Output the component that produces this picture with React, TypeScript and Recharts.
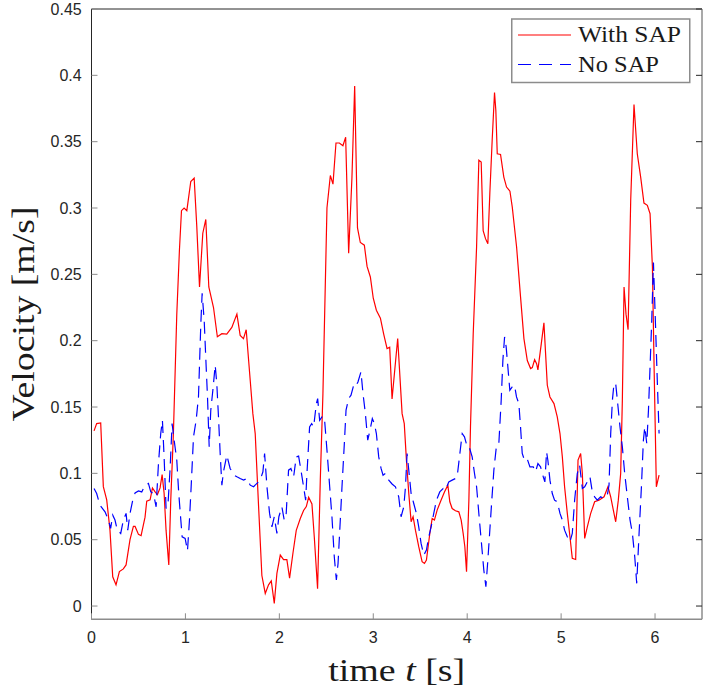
import React from "react";
import { Line, LineChart, XAxis, YAxis } from "recharts";

// sample times (s) and velocities (m/s)
const WITH_SAP_T = [
  0.027, 0.055, 0.098, 0.126, 0.162, 0.197, 0.226, 0.261, 0.297, 0.339, 0.368, 0.41, 0.446, 0.464, 0.5,
  0.528, 0.57, 0.588, 0.624, 0.649, 0.677, 0.702, 0.73, 0.752, 0.773, 0.794, 0.823, 0.844, 0.872, 0.908,
  0.936, 0.958, 0.986, 1.015, 1.057, 1.093, 1.121, 1.15, 1.185, 1.217, 1.249, 1.299, 1.34, 1.388, 1.44,
  1.494, 1.548, 1.583, 1.618, 1.647, 1.69, 1.718, 1.743, 1.779, 1.814, 1.85, 1.885, 1.914, 1.946, 1.974,
  2.01, 2.045, 2.08, 2.109, 2.145, 2.18, 2.223, 2.258, 2.287, 2.312, 2.347, 2.372, 2.407, 2.436, 2.464,
  2.507, 2.543, 2.571, 2.603, 2.639, 2.677, 2.706, 2.738, 2.773, 2.802, 2.832, 2.862, 2.905, 2.934, 2.969,
  3.0, 3.033, 3.076, 3.111, 3.147, 3.175, 3.2, 3.26, 3.307, 3.33, 3.353, 3.378, 3.403, 3.424, 3.449,
  3.484, 3.52, 3.545, 3.566, 3.602, 3.627, 3.651, 3.68, 3.715, 3.758, 3.794, 3.815, 3.84, 3.875, 3.911,
  3.936, 3.957, 3.975, 3.993, 4.018, 4.035, 4.064, 4.1, 4.124, 4.149, 4.17, 4.195, 4.22, 4.241, 4.266,
  4.291, 4.305, 4.32, 4.355, 4.39, 4.419, 4.455, 4.48, 4.526, 4.568, 4.604, 4.64, 4.675, 4.693, 4.718,
  4.739, 4.753, 4.789, 4.817, 4.853, 4.881, 4.924, 4.959, 4.988, 5.013, 5.037, 5.066, 5.094, 5.119, 5.155,
  5.18, 5.208, 5.226, 5.251, 5.279, 5.315, 5.357, 5.403, 5.457, 5.499, 5.528, 5.556, 5.581, 5.609, 5.634,
  5.652, 5.67, 5.691, 5.713, 5.741, 5.776, 5.811, 5.847, 5.882, 5.918, 5.947, 5.972, 5.99, 6.014, 6.043,
];
const WITH_SAP_V = [
  0.132, 0.1375, 0.138, 0.09, 0.08, 0.057, 0.022, 0.016, 0.026, 0.028, 0.031, 0.05, 0.06, 0.06, 0.054,
  0.053, 0.067, 0.079, 0.08, 0.089, 0.086, 0.084, 0.089, 0.099, 0.085, 0.057, 0.031, 0.08, 0.13, 0.22,
  0.268, 0.298, 0.3, 0.298, 0.32, 0.3225, 0.286, 0.2405, 0.281, 0.2914, 0.2405, 0.225, 0.203, 0.2053, 0.205,
  0.21, 0.22, 0.204, 0.2016, 0.2083, 0.17, 0.145, 0.13, 0.075, 0.023, 0.0095, 0.016, 0.019, 0.002, 0.0246,
  0.0384, 0.035, 0.035, 0.021, 0.04, 0.057, 0.066, 0.072, 0.075, 0.082, 0.077, 0.052, 0.013, 0.095, 0.16,
  0.3, 0.3245, 0.318, 0.349, 0.349, 0.347, 0.3534, 0.266, 0.323, 0.392, 0.285, 0.274, 0.272, 0.256, 0.248,
  0.232, 0.223, 0.217, 0.205, 0.194, 0.195, 0.156, 0.2016, 0.145, 0.1375, 0.11, 0.085, 0.0635, 0.0673, 0.0572,
  0.0447, 0.0334, 0.0321, 0.0346, 0.0547, 0.066, 0.0648, 0.0723, 0.0786, 0.086, 0.0911, 0.0786, 0.0735, 0.0718, 0.071,
  0.0648, 0.0547, 0.0447, 0.0259, 0.0798, 0.135, 0.205, 0.2706, 0.336, 0.3346, 0.283, 0.2769, 0.273, 0.311, 0.351,
  0.387, 0.3735, 0.3409, 0.3404, 0.3233, 0.3158, 0.3127, 0.3007, 0.2706, 0.233, 0.2016, 0.185, 0.179, 0.1797, 0.1857,
  0.1827, 0.178, 0.1978, 0.2134, 0.1664, 0.1576, 0.1526, 0.1426, 0.13, 0.1124, 0.0899, 0.0698, 0.0522, 0.0359, 0.0351,
  0.11, 0.115, 0.0999, 0.051, 0.0597, 0.0698, 0.0786, 0.0798, 0.0823, 0.0899, 0.0823, 0.0723, 0.0635, 0.0798, 0.0999,
  0.155, 0.2405, 0.22, 0.2083, 0.306, 0.378, 0.3409, 0.3233, 0.3037, 0.302, 0.2957, 0.2555, 0.18, 0.0899, 0.0986,
];

const NO_SAP_T = [
  0.027, 0.055, 0.09, 0.144, 0.18, 0.204, 0.226, 0.25, 0.275, 0.311, 0.339, 0.368, 0.386, 0.41, 0.439,
  0.464, 0.5, 0.535, 0.57, 0.606, 0.631, 0.659, 0.688, 0.713, 0.737, 0.755, 0.773, 0.794, 0.816, 0.837,
  0.858, 0.88, 0.908, 0.929, 0.951, 0.965, 0.997, 1.022, 1.043, 1.061, 1.086, 1.114, 1.139, 1.164, 1.178,
  1.2, 1.221, 1.235, 1.253, 1.27, 1.292, 1.317, 1.334, 1.352, 1.37, 1.388, 1.405, 1.441, 1.476, 1.519,
  1.548, 1.583, 1.619, 1.654, 1.69, 1.725, 1.796, 1.825, 1.843, 1.868, 1.896, 1.921, 1.946, 1.974, 1.995,
  2.027, 2.052, 2.073, 2.098, 2.123, 2.152, 2.18, 2.205, 2.23, 2.258, 2.28, 2.294, 2.322, 2.344, 2.365,
  2.394, 2.408, 2.429, 2.454, 2.479, 2.507, 2.536, 2.56, 2.585, 2.607, 2.625, 2.649, 2.667, 2.692, 2.71,
  2.738, 2.763, 2.791, 2.809, 2.837, 2.869, 2.891, 2.916, 2.941, 2.969, 2.99, 3.012, 3.033, 3.058, 3.083,
  3.104, 3.129, 3.165, 3.2, 3.236, 3.271, 3.296, 3.325, 3.343, 3.36, 3.378, 3.403, 3.431, 3.459, 3.484,
  3.509, 3.538, 3.566, 3.591, 3.616, 3.644, 3.673, 3.708, 3.744, 3.769, 3.804, 3.84, 3.875, 3.893, 3.922,
  3.947, 3.971, 4.0, 4.021, 4.053, 4.078, 4.1, 4.124, 4.149, 4.177, 4.199, 4.22, 4.241, 4.262, 4.284,
  4.312, 4.337, 4.362, 4.38, 4.398, 4.415, 4.433, 4.454, 4.479, 4.504, 4.525, 4.55, 4.568, 4.586, 4.604,
  4.632, 4.668, 4.703, 4.728, 4.753, 4.781, 4.81, 4.827, 4.845, 4.859, 4.881, 4.906, 4.93, 4.959, 4.988,
  5.013, 5.037, 5.066, 5.094, 5.119, 5.144, 5.172, 5.197, 5.226, 5.251, 5.279, 5.307, 5.332, 5.357, 5.385,
  5.421, 5.457, 5.492, 5.51, 5.528, 5.546, 5.563, 5.581, 5.599, 5.627, 5.652, 5.677, 5.705, 5.734, 5.759,
  5.784, 5.805, 5.83, 5.855, 5.876, 5.891, 5.912, 5.93, 5.947, 5.965, 5.983, 6.008, 6.025, 6.043,
];
const NO_SAP_V = [
  0.0886, 0.0848, 0.076, 0.071, 0.0648, 0.0585, 0.0685, 0.0648, 0.0572, 0.0547, 0.0648, 0.0698, 0.0572, 0.0698, 0.0798,
  0.0853, 0.0868, 0.086, 0.0911, 0.0924, 0.086, 0.0848, 0.0748, 0.1074, 0.13, 0.14, 0.1124, 0.0735, 0.0786, 0.1037,
  0.1375, 0.125, 0.11, 0.0848, 0.0648, 0.0522, 0.051, 0.0417, 0.0648, 0.0899, 0.1275, 0.14, 0.1576, 0.2128, 0.2357,
  0.215, 0.18, 0.1576, 0.12, 0.1476, 0.1626, 0.1815, 0.1677, 0.1426, 0.115, 0.0911, 0.1012, 0.1137, 0.1037, 0.0986,
  0.0974, 0.0961, 0.0949, 0.0961, 0.0911, 0.0899, 0.0949, 0.1012, 0.115, 0.0899, 0.0698, 0.0597, 0.0673, 0.0547, 0.0673,
  0.0748, 0.0648, 0.0698, 0.1024, 0.1037, 0.0974, 0.1124, 0.113, 0.1024, 0.0899, 0.0798, 0.0999, 0.135, 0.1375, 0.135,
  0.1526, 0.1564, 0.14, 0.1426, 0.1426, 0.1175, 0.0899, 0.0673, 0.0371, 0.0196, 0.0321, 0.0648, 0.0899, 0.1225, 0.1476,
  0.1564, 0.1589, 0.1664, 0.1652, 0.1689, 0.1765, 0.16, 0.145, 0.125, 0.1338, 0.1413, 0.1375, 0.13, 0.1124, 0.1037,
  0.0986, 0.0999, 0.0949, 0.092, 0.0899, 0.0823, 0.0673, 0.0748, 0.0899, 0.115, 0.1024, 0.0848, 0.0773, 0.0698, 0.0597,
  0.0472, 0.0384, 0.0422, 0.0522, 0.0597, 0.0698, 0.0798, 0.086, 0.0886, 0.0873, 0.0936, 0.0949, 0.0961, 0.0974, 0.115,
  0.13, 0.1275, 0.12, 0.12, 0.1124, 0.0999, 0.0899, 0.0698, 0.0497, 0.0271, 0.0146, 0.0346, 0.0572, 0.0798, 0.1024,
  0.1212, 0.1225, 0.1551, 0.1852, 0.2028, 0.1953, 0.1802, 0.1626, 0.1652, 0.1664, 0.1576, 0.1526, 0.135, 0.115, 0.1112,
  0.1124, 0.1049, 0.1049, 0.1012, 0.1074, 0.1049, 0.0974, 0.0936, 0.1162, 0.1099, 0.0949, 0.0848, 0.0798, 0.0786, 0.0698,
  0.0648, 0.0572, 0.0522, 0.0484, 0.0547, 0.0798, 0.0999, 0.1062, 0.0886, 0.0899, 0.0936, 0.0974, 0.086, 0.0823, 0.0798,
  0.0823, 0.0811, 0.0836, 0.0911, 0.13, 0.1551, 0.1677, 0.1677, 0.1551, 0.135, 0.12, 0.0999, 0.0823, 0.0648, 0.0547,
  0.0371, 0.0171, 0.0547, 0.0899, 0.125, 0.135, 0.1225, 0.1476, 0.1802, 0.2154, 0.259, 0.2053, 0.1677, 0.13,
];

const X_TICKS = [0, 1, 2, 3, 4, 5, 6];
const Y_TICKS = [0, 0.05, 0.1, 0.15, 0.2, 0.25, 0.3, 0.35, 0.4, 0.45];
const X_DOMAIN: [number, number] = [0, 6.5];
const Y_DOMAIN: [number, number] = [-0.01, 0.45];

const SERIES = [
  { name: "With SAP", color: "#ff0000", dash: undefined, t: WITH_SAP_T, v: WITH_SAP_V },
  { name: "No SAP", color: "#0000ff", dash: "12 7", t: NO_SAP_T, v: NO_SAP_V },
];

const toRows = (t: number[], v: number[]) => t.map((time, i) => ({ time, vel: v[i] }));

const AXIS_DARK = "#262626";
const AXIS_GRAY = "#8c8c8c";
const SANS = "'Liberation Sans', Arial, sans-serif";
const SERIF = "'Liberation Serif', 'Times New Roman', serif";
const TICK_LEN = 6;

// matlab-style ticks: short mark pointing into the plot, label outside (bottom/left only)
function makeTick(side: "bottom" | "top" | "left" | "right") {
  return function Tick({ x, y, payload }: any) {
    const v = payload.value;
    if (side === "bottom") {
      return (
        <g>
          <line x1={x} x2={x} y1={y} y2={y - TICK_LEN} stroke={AXIS_GRAY} />
          <text x={x} y={y + 24} textAnchor="middle" fontFamily={SANS} fontSize={16} fill={AXIS_DARK}>{v}</text>
        </g>
      );
    }
    if (side === "top") {
      return <line x1={x} x2={x} y1={y} y2={y + TICK_LEN} stroke={AXIS_GRAY} />;
    }
    if (side === "left") {
      return (
        <g>
          <line x1={x} x2={x + TICK_LEN} y1={y} y2={y} stroke={AXIS_GRAY} />
          <text x={x - 9.8} y={y + 5.7} textAnchor="end" fontFamily={SANS} fontSize={16} fill={AXIS_DARK}>{v}</text>
        </g>
      );
    }
    return <line x1={x} x2={x - TICK_LEN} y1={y} y2={y} stroke={AXIS_DARK} />;
  };
}

function XTitle({ viewBox }: any) {
  const cx = viewBox.x + viewBox.width / 2;
  return (
    <text x={cx} y={viewBox.y + 62} textAnchor="middle" fontFamily={SERIF} fontSize={31}
      fill="#1a1a1a" textLength={137} lengthAdjust="spacingAndGlyphs">
      time <tspan fontStyle="italic">t</tspan> [s]
    </text>
  );
}

function YTitle() {
  const cx = 33.5;
  const cy = 314;
  return (
    <text x={cx} y={cy} transform={`rotate(-90, ${cx}, ${cy})`} textAnchor="middle" fontFamily={SERIF}
      fontSize={31} fill="#1a1a1a" textLength={215} lengthAdjust="spacingAndGlyphs">
      Velocity [m/s]
    </text>
  );
}

function LegendBox() {
  return (
    <svg width={180} height={66} style={{ position: "absolute", left: 511, top: 18 }}>
      <rect x={0.75} y={1} width={178} height={63.5} fill="#fff" stroke={AXIS_GRAY} strokeWidth={1.5} />
      {SERIES.map((s, i) => (
        <g key={s.name}>
          <line x1={7} x2={60} y1={17 + i * 29.5} y2={17 + i * 29.5} stroke={s.color}
            strokeWidth={1.2} strokeDasharray={s.dash ? "13 8" : undefined} />
          <text x={67} y={24 + i * 29.5} fontFamily={SERIF} fontSize={23} fill="#1a1a1a"
            textLength={i === 0 ? 103 : 81} lengthAdjust="spacingAndGlyphs">
            {s.name}
          </text>
        </g>
      ))}
    </svg>
  );
}

export default function App() {
  return (
    <div style={{ position: "absolute", left: 0, top: 0, width: 705, height: 692, background: "#fff" }}>
      <LineChart width={705} height={692} margin={{ top: 8, right: 2, bottom: 0, left: 0 }}>
        <XAxis xAxisId="b" dataKey="time" type="number" domain={X_DOMAIN} ticks={X_TICKS}
          allowDataOverflow height={72.7} tickSize={0} tickMargin={0} tickLine={false}
          axisLine={{ stroke: AXIS_GRAY, strokeWidth: 1.5 }} tick={makeTick("bottom")} label={<XTitle />} />
        <XAxis xAxisId="t" orientation="top" type="number" domain={X_DOMAIN} ticks={X_TICKS}
          allowDataOverflow height={1} tickSize={0} tickMargin={0} tickLine={false}
          axisLine={{ stroke: AXIS_DARK }} tick={makeTick("top")} />
        <YAxis yAxisId="l" type="number" domain={Y_DOMAIN} ticks={Y_TICKS} allowDataOverflow
          width={91.5} tickSize={0} tickMargin={0} tickLine={false}
          axisLine={{ stroke: AXIS_DARK }} tick={makeTick("left")} label={<YTitle />} />
        <YAxis yAxisId="r" orientation="right" type="number" domain={Y_DOMAIN} ticks={Y_TICKS}
          allowDataOverflow width={1} tickSize={0} tickMargin={0} tickLine={false}
          axisLine={{ stroke: AXIS_GRAY, strokeWidth: 1.5 }} tick={makeTick("right")} />
        {SERIES.map((s) => (
          <Line key={s.name} xAxisId="b" yAxisId="l" data={toRows(s.t, s.v)} dataKey="vel"
            name={s.name} type="linear" stroke={s.color} strokeWidth={1.2}
            strokeDasharray={s.dash} dot={false} isAnimationActive={false} />
        ))}
      </LineChart>
      <LegendBox />
    </div>
  );
}
